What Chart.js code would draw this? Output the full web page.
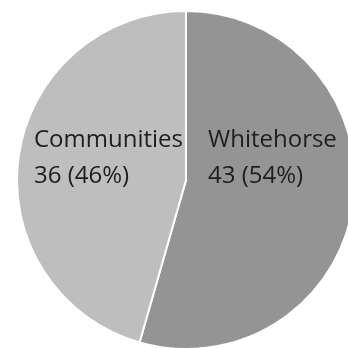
<!DOCTYPE html>
<html>
<head>
<meta charset="utf-8">
<script src="https://cdn.jsdelivr.net/npm/chart.js@4"></script>
<style>
    html, body { margin: 0; padding: 0; background: #fff; overflow: hidden; width: 348px; height: 348px; }
    #wrap { position: absolute; left: 16px; top: 10px; width: 340px; height: 340px; }
</style>
</head>
<body>
<div id="wrap"><canvas id="pie"></canvas></div>
<script>
const labels = ["Whitehorse", "Communities"];
const counts = [43, 36];
const colors = ["#949494", "#bebebe"];

// labels inside the slices: name on first line, "n (pct%)" below, both left aligned
const sliceLabels = {
    id: "sliceLabels",
    afterDatasetsDraw(chart) {
        const ctx = chart.ctx;
        const arcs = chart.getDatasetMeta(0).data;
        const total = counts.reduce((a, b) => a + b, 0);
        ctx.save();
        ctx.font = "24px 'Open Sans'";
        ctx.fillStyle = "#1e1e1e";
        ctx.textAlign = "left";
        ctx.textBaseline = "alphabetic";
        arcs.forEach((arc, i) => {
            const pct = Math.round(counts[i] / total * 100);
            let x = arc.x + 22;
            if (i !== 0) x = arc.x - 3 - ctx.measureText(labels[i]).width;
            ctx.fillText(labels[i], x, arc.y - 33);
            ctx.fillText(counts[i] + " (" + pct + "%)", x, arc.y + 3);
        });
        ctx.restore();
    }
};

new Chart(document.getElementById("pie").getContext("2d"), {
    type: "pie",
    data: {
        labels: labels,
        datasets: [{
            data: counts,
            backgroundColor: colors,
            borderColor: "#ffffff",
            borderWidth: 2
        }]
    },
    options: {
        responsive: true,
        maintainAspectRatio: false,
        animation: false,
        layout: { padding: 0 },
        plugins: {
            legend: { display: false },
            tooltip: { enabled: false }
        }
    },
    plugins: [sliceLabels]
});
</script>
</body>
</html>
